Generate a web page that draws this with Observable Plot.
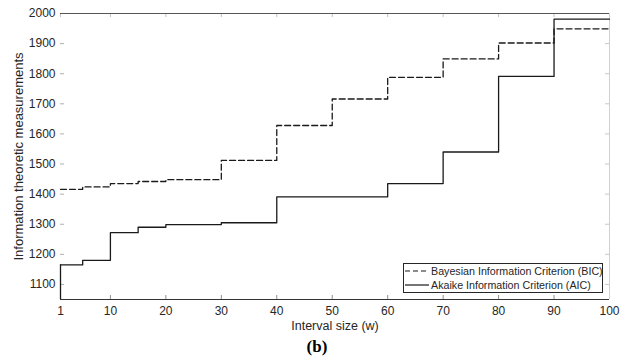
<!DOCTYPE html>
<html>
<head>
<meta charset="utf-8">
<script src="https://cdn.jsdelivr.net/npm/d3@7"></script>
<script src="https://cdn.jsdelivr.net/npm/@observablehq/plot@0.6"></script>
<style>
  body { margin: 0; background: #fff; }
  #wrap { position: relative; width: 624px; height: 361px; font-family: "Liberation Sans", Arial, sans-serif; }
  #legend { position: absolute; left: 403px; top: 263px; width: 198px; height: 28px; border: 1px solid #262626; background: #fff; font-size: 10.7px; color: #262626; }
  .row { position: absolute; left: 0; height: 14px; display: flex; align-items: center; white-space: nowrap; }
  .row svg { display: block; margin-right: 2px; }
</style>
</head>
<body>
<div id="wrap"></div>
<script>
// ---- data ----
const xTicks = [1, 10, 20, 30, 40, 50, 60, 70, 80, 90, 100];
const yTicks = [1100, 1200, 1300, 1400, 1500, 1600, 1700, 1800, 1900, 2000];
const xDomain = [1, 100];
const yDomain = [1050, 2000];

const bicW = [1, 5, 10, 15, 20, 30, 40, 50, 60, 70, 80, 90, 100];
const bicV = [1416, 1424, 1435, 1442, 1448, 1512, 1628, 1716, 1788, 1849, 1902, 1949, 1949];
const aicW = [1, 5, 10, 15, 20, 30, 40, 60, 70, 80, 90, 100];
const aicV = [1165, 1180, 1272, 1290, 1299, 1305, 1391, 1435, 1540, 1791, 1981, 1981];

const seriesNames = ["Bayesian Information Criterion (BIC)", "Akaike Information Criterion (AIC)"];
const xLabel = "Interval size (w)";
const yLabel = "Information theoretic measurements";
const caption = "(b)";

const bic = bicW.map((w, i) => ({w, v: bicV[i]}));
const aic = aicW.map((w, i) => ({w, v: aicV[i]}));

const W = 624, H = 361, mL = 60, mR = 15, mT = 13, mB = 62;
const fw = W - mL - mR, fh = H - mT - mB;
const txt = "#262626";

const chart = Plot.plot({
  width: W, height: H,
  marginLeft: mL, marginRight: mR, marginTop: mT, marginBottom: mB,
  style: {fontFamily: "Liberation Sans, Arial, sans-serif", background: "#fff", color: txt},
  x: {domain: xDomain},
  y: {domain: yDomain},
  marks: [
    // inward ticks
    Plot.tickY(yTicks, {y: d => d, stroke: "#b0b0b0", insetRight: fw - 4}),
    Plot.tickY(yTicks, {y: d => d, stroke: "#c8c8c8", insetLeft: fw - 4}),
    Plot.tickX(xTicks, {x: d => d, stroke: "#c0c0c0", insetBottom: fh - 4}),
    Plot.tickX(xTicks, {x: d => d, stroke: "#909090", insetTop: fh - 4}),
    // box
    Plot.ruleY([yDomain[1]], {stroke: "#555", strokeWidth: 1}),
    Plot.ruleY([yDomain[0]], {stroke: "#333", strokeWidth: 1}),
    Plot.ruleX([xDomain[1]], {stroke: "#d0d0d0", strokeWidth: 1}),
    // data
    Plot.ruleX([aicW[0]], {y1: yDomain[0], y2: aicV[0], stroke: "#1a1a1a", strokeWidth: 1.3}),
    Plot.line(aic, {x: "w", y: "v", curve: "step-after", stroke: "#1a1a1a", strokeWidth: 1.3}),
    Plot.line(bic, {x: "w", y: "v", curve: "step-after", stroke: "#1a1a1a", strokeWidth: 1.3, strokeDasharray: "6,3"}),
    // axes
    Plot.axisX({ticks: xTicks, tickSize: 0, tickPadding: 7, fontSize: 12, label: null, fill: txt}),
    Plot.axisY({ticks: yTicks, tickSize: 0, tickPadding: 5, fontSize: 12, label: null, fill: txt, tickFormat: d => String(d)}),
    Plot.text([xLabel], {text: d => d, frameAnchor: "bottom", dy: 30, fontSize: 12.5, fill: txt}),
    Plot.text([yLabel], {text: d => d, frameAnchor: "left", textAnchor: "middle", lineAnchor: "middle", rotate: -90, dx: -42, fontSize: 13, fill: txt}),
    Plot.text([caption], {text: d => d, frameAnchor: "bottom", dy: 52, dx: -18, fontSize: 17, fontWeight: "bold", fontFamily: "Liberation Serif, Times New Roman, serif", fill: "#000"})
  ]
});
const wrap = document.getElementById("wrap");
wrap.appendChild(chart);

// legend
const legend = document.createElement("div");
legend.id = "legend";
const dashes = ["5,3", null];
seriesNames.forEach((name, i) => {
  const row = document.createElement("div");
  row.className = "row";
  row.style.top = (i * 14 + 0) + "px";
  const s = d3.create("svg").attr("width", 25).attr("height", 14);
  s.append("line").attr("x1", 1).attr("x2", 25).attr("y1", 7).attr("y2", 7)
    .attr("stroke", "#1a1a1a").attr("stroke-width", 1.2)
    .attr("stroke-dasharray", dashes[i]);
  row.appendChild(s.node());
  const t = document.createElement("span");
  t.textContent = name;
  row.appendChild(t);
  legend.appendChild(row);
});
wrap.appendChild(legend);
</script>
</body>
</html>
